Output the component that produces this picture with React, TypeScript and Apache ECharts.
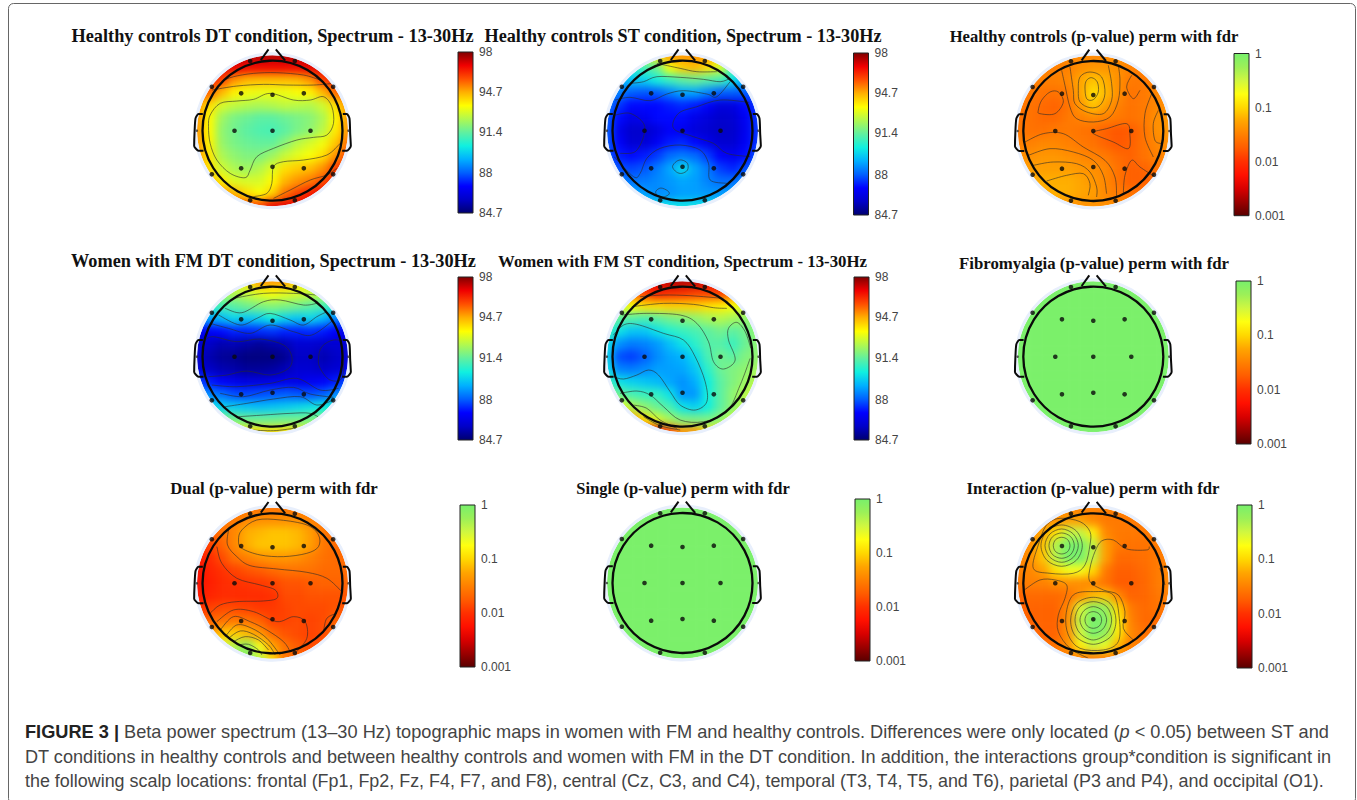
import React, { useEffect, useRef } from "react";
import * as echarts from "echarts";

// Field cell values, 13 rows from the front of the scalp to the back, 13 columns left to right.
const hcDtField = [
  [97.5,97.5,97.5,97.5,97.5,97.5,97.5,97.5,97.5,97.5,97.5,97.5,97.5],
  [97,97,97,97,96.8,96.8,96.8,96.8,96.8,97,97,97,97],
  [96.5,96.5,96,95,94.6,94.5,94.5,94.5,94.6,95,96,96.5,96.5],
  [96,95.5,94.5,93.7,93.4,93.3,93.3,93.3,93.5,93.7,94.5,95.5,96],
  [95,94,93,92.7,92.5,92.4,92.5,92.7,92.6,92.5,92.9,94,95],
  [95,93.6,92.2,91.7,91.5,91.3,91.3,91.5,91.7,91.9,92.4,93.6,95],
  [95,93.6,92,91.6,91.3,91.1,91,91.3,91.7,92,92.6,93.8,95],
  [95,93.7,92.1,91.7,91.5,91.4,91.4,91.9,92.6,93,93.4,94.3,95.5],
  [95,93.9,92.4,92,91.8,91.8,92.2,92.8,93.2,93.5,94,95,96],
  [95,94,92.9,92.4,92.2,92.5,93.1,94,94.3,94.5,95,96,96.5],
  [95,94.5,93.8,93.1,93,93,93.6,94.6,95,95.3,95.8,96.5,97],
  [96,96,95,94.6,94,93.6,94.2,95.4,96,96.5,97,97,97],
  [96,96,96,96,96,96,97,97,97,97,97,97,97],
];
const hcStField = [
  [92,92,92,93,94,95,95,95,95,94,92,90,90],
  [90.5,90.5,90.5,91,91.6,93.5,94.3,94.5,94,93,91,90,90],
  [89,89,89.5,89.7,90.3,90.8,91.3,91.5,91.2,91,90,89,88.5],
  [88.5,88.5,88,87.9,88,88.5,89,89,88.5,88,88,88,88],
  [88.5,87.5,87,87,87,87.2,87.4,87.2,86.8,86.2,86.3,87,87.5],
  [88,87,86.4,86.6,87,87,87,86.5,86.2,85.9,86,86.7,87.5],
  [88,86.5,85.9,85.9,86.3,86.8,86.6,86.2,86,85.8,85.9,86.6,87.5],
  [88,86.8,86,86.1,86.7,87.2,87.4,87,86.5,86,86,86.7,87.5],
  [88,87.2,87,87.2,87.6,88.2,88.4,88.2,87.6,86.8,86.6,87,88],
  [88.5,87.8,87.7,87.9,88.4,89,89.9,89,88.4,87.6,87.3,87.8,88.5],
  [89,88.5,88.3,88.4,88.6,88.8,89,88.9,88.5,88.2,88.2,88.7,89],
  [89.5,89.5,89,88.9,88.6,88.7,88.9,88.9,88.8,88.8,89,89.5,89.5],
  [90,90,90,90,90,90,90,90,90,90,90,90,90],
];
const fmDtField = [
  [93,93,93,93,94,95,95,95,94,93,93,93,93],
  [92.3,92.3,92.3,92.5,92.8,93.2,93.5,93.2,93,92.8,92.5,92.3,92.3],
  [90.5,90.5,91,91.3,91.6,91.8,91.9,91.8,91.6,91.3,91,90.5,90.5],
  [88.5,89,89.3,89.8,89.5,89.7,90.2,89.7,89.5,89.8,89.3,88.5,88],
  [86.5,86.8,87,87.3,87.3,87.4,87.5,87.3,87.3,87.4,87.2,86.8,86.5],
  [86,85.8,85.5,85.6,85.4,85.2,85.4,85.6,86,86,85.9,86,86],
  [86,85.5,85.2,85.1,84.9,84.9,84.9,85.1,85.8,85.8,85.5,85.8,86],
  [86.2,85.8,85.5,85.4,85.2,85.2,85.3,85.6,86,86,85.8,86,86.3],
  [87.8,87.2,86.8,86.5,86.3,86.3,86.4,86.5,86.4,86.6,86.8,87.2,87.8],
  [89,88.6,88.2,87.8,87.7,87.8,87.9,88,87.9,87.8,88,88.6,89],
  [90.3,90,89.7,89.6,89.5,89.4,89.5,89.6,89.8,90,90.2,90.3,90.3],
  [92,92,91.8,91.6,91.5,91.5,91.5,91.6,91.6,91.7,91.8,92,92],
  [93,93,93,93.5,94,94,94,94,94,93,93,93,93],
];
const fmStField = [
  [97,97,97,97,97,97.5,97.5,97.5,97,97,97,97,97],
  [95,95,95.5,96,96.5,96.3,96.2,96,96,96,95.5,95,95],
  [92.5,93,93.5,94,94,94.2,94.2,94.2,94,93.8,93.5,93,93],
  [91.5,91.3,91.2,91,91.3,91.6,91.8,92,92.3,92.5,92.3,92,92],
  [91,90,89.5,89.5,90,90.5,90.8,91,91.3,91.6,91.3,91.6,92],
  [90,88.7,88.4,88.5,88.8,89.4,90,90.6,91.2,91.2,90.8,91.5,92],
  [89.8,87.8,87.6,88,88.6,89,89.2,89.9,91,91.6,91.3,91.8,92],
  [90,88.5,88.4,88.6,88.9,88.9,89,89.5,90.6,91.5,91.8,92,92.3],
  [91,90,89.7,89.5,89.3,89,88.7,89.1,90.2,91.3,91.8,92.2,92.6],
  [92,91.4,91,90.8,90.7,90,88.8,88.8,90.3,91.3,92,92.5,93],
  [94.5,93.5,92.5,92,91.5,91,90,89.7,90.2,91.3,92,92.7,93],
  [96,95.5,95,94,93,92.3,91.8,91.7,91.7,92,92.8,93,93.5],
  [96,96,96.5,97,97,96,95,95,94,94,94,94,94],
];
// p-value maps hold log10(p)
const hcPField = [
  [-1.45,-1.45,-1.45,-1.45,-1.45,-1.45,-1.45,-1.45,-1.45,-1.45,-1.45,-1.45,-1.45],
  [-1.5,-1.5,-1.5,-1.5,-1.5,-1.4,-1.35,-1.35,-1.4,-1.5,-1.5,-1.5,-1.5],
  [-1.5,-1.5,-1.5,-1.5,-1.45,-1.25,-1.1,-1.2,-1.4,-1.55,-1.55,-1.5,-1.5],
  [-1.5,-1.55,-1.6,-1.6,-1.55,-1.25,-0.95,-1.15,-1.4,-1.6,-1.55,-1.45,-1.45],
  [-1.55,-1.6,-1.65,-1.7,-1.6,-1.35,-1.1,-1.3,-1.5,-1.6,-1.55,-1.45,-1.4],
  [-1.6,-1.6,-1.65,-1.65,-1.55,-1.5,-1.45,-1.5,-1.55,-1.6,-1.55,-1.4,-1.35],
  [-1.55,-1.6,-1.6,-1.55,-1.55,-1.58,-1.62,-1.72,-1.78,-1.75,-1.6,-1.4,-1.35],
  [-1.5,-1.5,-1.45,-1.45,-1.5,-1.55,-1.6,-1.7,-1.78,-1.72,-1.6,-1.45,-1.4],
  [-1.4,-1.4,-1.35,-1.35,-1.4,-1.45,-1.5,-1.55,-1.65,-1.7,-1.6,-1.5,-1.45],
  [-1.35,-1.3,-1.3,-1.3,-1.3,-1.35,-1.4,-1.45,-1.6,-1.72,-1.7,-1.6,-1.55],
  [-1.35,-1.25,-1.2,-1.2,-1.2,-1.25,-1.35,-1.45,-1.6,-1.72,-1.72,-1.65,-1.6],
  [-1.35,-1.3,-1.25,-1.2,-1.2,-1.25,-1.3,-1.45,-1.55,-1.6,-1.6,-1.6,-1.6],
  [-1.4,-1.4,-1.4,-1.4,-1.4,-1.4,-1.4,-1.4,-1.4,-1.4,-1.4,-1.4,-1.4],
];
const greenRow = [-0.02,-0.02,-0.02,-0.02,-0.02,-0.02,-0.02,-0.02,-0.02,-0.02,-0.02,-0.02,-0.02];
const fmPField = [greenRow,greenRow,greenRow,greenRow,greenRow,greenRow,greenRow,greenRow,greenRow,greenRow,greenRow,greenRow,greenRow];
const singlePField = fmPField;
const dualPField = [
  [-1.6,-1.6,-1.6,-1.6,-1.6,-1.6,-1.6,-1.6,-1.6,-1.6,-1.6,-1.6,-1.6],
  [-1.6,-1.6,-1.6,-1.55,-1.45,-1.4,-1.4,-1.4,-1.4,-1.5,-1.6,-1.6,-1.6],
  [-1.8,-1.75,-1.6,-1.45,-1.2,-1.15,-1.1,-1.1,-1.15,-1.3,-1.55,-1.65,-1.65],
  [-2,-1.9,-1.7,-1.45,-1.2,-1.1,-1.1,-1.1,-1.15,-1.3,-1.55,-1.65,-1.65],
  [-2.2,-2.05,-1.85,-1.6,-1.5,-1.4,-1.35,-1.35,-1.4,-1.5,-1.6,-1.65,-1.65],
  [-2.3,-2.1,-2,-1.9,-1.8,-1.75,-1.65,-1.6,-1.6,-1.6,-1.65,-1.65,-1.65],
  [-2.3,-2.15,-2.05,-2,-1.98,-1.95,-1.9,-1.8,-1.8,-1.75,-1.7,-1.7,-1.7],
  [-2.2,-2.1,-2.05,-2.05,-2.05,-2.05,-2,-1.85,-1.85,-1.8,-1.8,-1.8,-1.8],
  [-2,-1.9,-1.85,-1.85,-1.9,-1.95,-1.95,-1.9,-1.85,-1.85,-1.85,-1.8,-1.8],
  [-1.8,-1.65,-1.6,-1.55,-1.6,-1.7,-1.9,-1.9,-1.85,-1.9,-1.85,-1.7,-1.7],
  [-1.6,-1.4,-1.1,-1.05,-1.15,-1.35,-1.65,-1.8,-1.85,-1.9,-1.85,-1.65,-1.6],
  [-1.3,-0.9,-0.6,-0.35,-0.15,-0.7,-1.25,-1.6,-1.75,-1.85,-1.8,-1.7,-1.65],
  [-1,-0.8,-0.5,-0.15,-0.1,-0.4,-1,-1.6,-1.7,-1.7,-1.7,-1.7,-1.7],
];
const interactionPField = [
  [-1.5,-1.5,-1.5,-1.5,-1.5,-1.5,-1.5,-1.5,-1.5,-1.5,-1.5,-1.5,-1.5],
  [-1.5,-1.5,-1.5,-1.4,-1.3,-1.3,-1.45,-1.55,-1.55,-1.55,-1.55,-1.5,-1.5],
  [-1.5,-1.45,-1.25,-0.95,-0.45,-0.45,-0.85,-1.45,-1.55,-1.55,-1.55,-1.5,-1.5],
  [-1.5,-1.4,-1.1,-0.35,0,0,-0.4,-1.3,-1.55,-1.6,-1.6,-1.55,-1.5],
  [-1.5,-1.4,-1.1,-0.4,0,0,-0.45,-1.3,-1.65,-1.65,-1.62,-1.55,-1.5],
  [-1.5,-1.45,-1.3,-0.95,-0.7,-0.7,-1,-1.55,-1.72,-1.72,-1.65,-1.55,-1.45],
  [-1.55,-1.5,-1.5,-1.42,-1.4,-1.42,-1.45,-1.6,-1.75,-1.75,-1.68,-1.55,-1.45],
  [-1.7,-1.65,-1.65,-1.65,-1.6,-1.4,-1.15,-1.1,-1.45,-1.7,-1.68,-1.58,-1.5],
  [-1.7,-1.7,-1.7,-1.7,-1.45,-0.55,-0.1,-0.2,-1,-1.55,-1.65,-1.6,-1.55],
  [-1.7,-1.7,-1.7,-1.7,-1.4,-0.4,0,-0.05,-0.85,-1.5,-1.65,-1.65,-1.6],
  [-1.65,-1.65,-1.7,-1.7,-1.4,-0.5,0,-0.2,-0.9,-1.45,-1.6,-1.6,-1.6],
  [-1.6,-1.6,-1.6,-1.6,-1.4,-0.85,-0.5,-0.65,-1.2,-1.5,-1.55,-1.55,-1.55],
  [-1.55,-1.55,-1.55,-1.55,-1.55,-1.55,-1.55,-1.55,-1.55,-1.55,-1.55,-1.55,-1.55],
];

// Contour lines, scalp coordinates (head radius = 210 units)
const hcDtContours = [
  [[-152,149],[-117,162],[-57,172],[13,174],[93,167],[143,152]],
  [[-182,122],[-107,134],[-27,139],[43,137],[123,137],[183,142]],
  [[-192,12],[-187,47],[-157,82],[-107,89],[-57,94],[-7,112],[63,92],[113,92],[153,102],[178,72],[183,22],[163,-13],[123,-20],[73,-28],[3,-53],[-47,-78],[-67,-118],[-82,-141],[-127,-128],[-167,-88],[-187,-38],[-192,12]],
  [[-57,-198],[-17,-188],[-2,-158],[3,-108],[33,-93],[93,-88],[163,-73],[203,-38]],
  [[3,-203],[53,-178],[113,-148],[163,-133],[193,-113]],
];
const hcStContours = [
  [[-77,202],[-7,187],[43,177],[103,177]],
  [[-157,142],[-117,147],[-77,162],[-7,160],[63,154],[113,147],[143,157]],
  [[-202,92],[-157,100],[-97,90],[-47,110],[3,120],[73,110],[103,102],[143,147]],
  [[-202,47],[-157,52],[-117,22],[-117,-18],[-142,-63],[-187,-68]],
  [[200,85],[113,92],[43,72],[-12,52],[-27,7],[33,-18],[93,-38],[133,-68],[203,-78]],
  [[-205,-78],[-147,-138],[-127,-128],[-107,-83],[-67,-53],[-7,-43],[53,-58],[78,-98],[83,-148],[133,-158]],
  [[-30,-108],[-18,-92],[-2,-88],[15,-98],[15,-118],[-2,-128],[-18,-124],[-30,-108]],
  [[-80,-182],[-65,-172],[-45,-180],[-40,-190],[-55,-198],[-75,-195],[-80,-182]],
];
const hcPContours = [
  [[-25,132],[-20,152],[-5,160],[12,147],[15,117],[0,94],[-20,97],[-25,132]],
  [[-45,122],[-40,162],[-10,177],[25,162],[35,112],[20,77],[-10,70],[-40,87],[-45,122]],
  [[-70,192],[-60,122],[-55,82],[-20,57],[30,52],[55,92],[55,142],[45,197]],
  [[-95,182],[-85,137],[-70,72],[-50,37],[0,27],[50,42],[75,92],[80,152],[75,197]],
  [[-165,62],[-155,92],[-130,117],[-105,117],[-90,87],[-115,52],[-160,52],[-165,62]],
  [[115,167],[100,132],[120,97],[140,122]],
  [[175,112],[155,52],[155,-18],[180,-78]],
  [[195,62],[180,22],[185,-28],[205,-38]],
  [[0,-3],[40,7],[100,22],[110,-13],[105,-53],[60,-33],[10,-13],[0,-3]],
  [[-205,-33],[-150,-8],[-90,-8],[-30,-48],[35,-88],[65,-138],[70,-198]],
  [[-195,-73],[-130,-53],[-60,-63],[0,-88],[30,-133],[40,-188]],
  [[-180,-103],[-120,-93],[-50,-98],[-10,-123],[10,-168],[10,-198]],
  [[-140,-150],[-80,-133],[-30,-128],[-10,-158],[-15,-193]],
  [[90,-188],[95,-133],[115,-88],[140,-108],[185,-138]],
];
const fmDtContours = [
  [[-117,175],[-27,190],[63,190],[133,185]],
  [[-142,145],[-92,132],[-27,165],[23,170],[93,155],[133,160]],
  [[-162,125],[-97,95],[-47,115],[-7,130],[53,110],[93,95],[133,120],[163,135]],
  [[-187,100],[-132,85],[-67,70],[-7,95],[63,75],[118,65],[183,110]],
  [[-202,50],[-177,60],[-107,45],[-37,53],[33,35],[58,0],[48,-35],[-7,-55],[-77,-43],[-137,-55],[-192,-60]],
  [[138,-5],[148,30],[183,50],[208,35],[210,-60],[173,-70],[143,-35],[138,-5]],
  [[-182,-85],[-107,-90],[-7,-80],[73,-65],[143,-100],[198,-95]],
  [[-157,-110],[-87,-120],[-7,-100],[63,-92],[113,-112],[183,-122]],
  [[-142,-150],[-77,-140],[3,-127],[83,-120],[133,-145],[183,-130]],
  [[-102,-180],[-27,-175],[53,-170],[113,-170],[153,-190]],
  [[-67,-220],[3,-222],[63,-215]],
];
const fmStContours = [
  [[-127,180],[-57,185],[23,183],[123,175]],
  [[-152,150],[-57,160],[33,157],[93,147],[133,145]],
  [[-182,125],[-107,130],[-7,125],[43,100],[78,45],[93,-15],[123,-37],[158,-10],[138,50],[138,85],[163,103],[188,75],[205,25]],
  [[-207,65],[-177,95],[-137,97],[-57,70],[3,50],[38,0],[68,-75],[73,-135],[38,-160],[-7,-145],[-37,-105],[-72,-55],[-102,-40],[-137,-55],[-177,-67],[-207,-60]],
  [[-187,-110],[-137,-103],[-97,-115],[-57,-150],[-7,-190],[63,-195],[133,-165],[173,-85],[203,-5]],
  [[-147,-145],[-107,-155],[-67,-190],[-17,-215]],
  [[-117,-180],[-67,-207],[-7,-220]],
];
const dualPContours = [
  [[-102,130],[-92,160],[-47,190],[23,190],[103,175],[138,145],[138,110],[103,90],[33,80],[-37,85],[-92,105],[-102,130]],
  [[-132,160],[-135,115],[-107,80],[-67,53],[13,43],[103,33],[163,15],[208,-25]],
  [[-167,110],[-152,60],[-107,15],[-37,-5],[8,-20],[13,-45],[-27,-53],[-107,-55],[-157,-65],[-187,-90]],
  [[-167,-115],[-117,-80],[-57,-85],[13,-115],[63,-100],[98,-115],[103,-165],[68,-210]],
  [[-157,-140],[-117,-100],[-67,-115],[-17,-140],[33,-175],[53,-205]],
  [[-142,-160],[-107,-125],[-62,-135],[-17,-165],[23,-215]],
  [[-132,-165],[-97,-143],[-57,-153],[-12,-185],[8,-215]],
  [[-117,-175],[-82,-160],[-42,-170],[-12,-200]],
  [[-102,-185],[-72,-183],[-42,-200],[-32,-215]],
  [[153,-145],[163,-105],[193,-90]],
];
const interactionPContours = [
  [[-70,113],[-77,131],[-95,138],[-113,131],[-120,113],[-113,95],[-95,88],[-77,95],[-70,113]],
  [[-57,113],[-68,140],[-95,151],[-122,140],[-133,113],[-122,86],[-95,75],[-68,86],[-57,113]],
  [[-45,113],[-60,148],[-95,163],[-130,148],[-145,113],[-130,78],[-95,63],[-60,78],[-45,113]],
  [[-33,113],[-51,157],[-95,175],[-139,157],[-157,113],[-139,69],[-95,51],[-51,69],[-33,113]],
  [[-10,155],[-40,185],[-100,195],[-140,175],[-165,115],[-180,45],[-130,30],[-60,30],[-25,55],[-10,115],[-10,155]],
  [[25,-110],[18,-92],[0,-85],[-18,-92],[-25,-110],[-18,-128],[0,-135],[18,-128],[25,-110]],
  [[40,-110],[28,-82],[0,-70],[-28,-82],[-40,-110],[-28,-138],[0,-150],[28,-138],[40,-110]],
  [[55,-110],[40,-70],[0,-55],[-40,-70],[-55,-110],[-40,-150],[0,-170],[40,-150],[55,-110]],
  [[68,-110],[50,-60],[0,-42],[-50,-60],[-68,-110],[-52,-160],[0,-183],[52,-160],[68,-110]],
  [[-82,-95],[-60,-35],[0,-25],[60,-35],[78,-105],[75,-175],[30,-200],[-40,-195],[-75,-155],[-82,-95]],
  [[-207,-20],[-160,10],[-115,10],[-80,-5],[-85,-45],[-105,-95],[-105,-145],[-70,-195],[-15,-225]],
  [[168,110],[160,100],[100,103],[60,130],[25,127],[5,95],[-10,45],[-10,5],[30,-20],[75,-35],[95,-85],[90,-135],[120,-170]],
  [[200,45],[215,-5]],
];

const electrodes = [
  [-94,112],[0,108],[94,112],[-114,0],[0,0],[114,0],[-94,-113],[0,-108],[94,-113],
  [-182,132],[182,132],[-182,-131],[182,-131],[-67,209],[67,209],[-67,-209],[67,-209],
];
const earSpots = [[-227,0],[228,0]];
const headLines = [
  [[-209,50],[-222,50],[-231,37],[-234,-8],[-235,-46],[-222,-60],[-207,-60]],
  [[211,50],[223,50],[231,37],[233,-8],[235,-46],[223,-60],[209,-60]],
  [[-35,212],[-12,244]],
  [[10,244],[38,210]],
];

const cellCategories = ["0","1","2","3","4","5","6","7","8","9","10","11","12"];
const spectrumTicks = [84.7, 88, 91.4, 94.7, 98];
const pTickValues = [-3, -2, -1, 0];
const pTickLabels = ["0.001", "0.01", "0.1", "1"];

const jetColors = ['#000070','#0000c8','#0000ff','#0060ff','#00b0ff','#10f0e0','#60f0a0','#b0f850','#ffff00','#ffb000','#ff5000','#f00000','#800000'];
const pColors = ['#5a0000','#9a0000','#d80000','#ff1000','#ff3000','#ff5c00','#ff8000','#ffa500','#ffd800','#ffff10','#d0f740','#9cf058','#78f06c'];

const MAPS: any[] = [
  { title: "Healthy controls DT condition, Spectrum - 13-30Hz", size: 18.3, tx: 272.5, ty: 36, field: hcDtField, contours: hcDtContours, kind: "s", cx: 272.5, cy: 130.7, bx: 458, bt: 52, bb: 213 },
  { title: "Healthy controls ST condition, Spectrum - 13-30Hz", size: 18.2, tx: 683, ty: 36, field: hcStField, contours: hcStContours, kind: "s", cx: 682.5, cy: 130.7, bx: 853.5, bt: 53, bb: 215 },
  { title: "Healthy controls (p-value) perm with fdr", size: 16.6, tx: 1094, ty: 36, field: hcPField, contours: hcPContours, kind: "p", cx: 1093.3, cy: 131, bx: 1234, bt: 53.5, bb: 215.7 },
  { title: "Women with FM DT condition, Spectrum - 13-30Hz", size: 18.3, tx: 273.5, ty: 261, field: fmDtField, contours: fmDtContours, kind: "s", cx: 272.5, cy: 356.7, bx: 458, bt: 277, bb: 440 },
  { title: "Women with FM ST condition, Spectrum - 13-30Hz", size: 16.8, tx: 682.5, ty: 261, field: fmStField, contours: fmStContours, kind: "s", cx: 682.5, cy: 356.7, bx: 854, bt: 277, bb: 440 },
  { title: "Fibromyalgia (p-value) perm with fdr", size: 16.8, tx: 1094, ty: 263, field: fmPField, contours: [], kind: "p", cx: 1093.3, cy: 356.7, bx: 1236, bt: 281, bb: 444 },
  { title: "Dual (p-value) perm with fdr", size: 16.75, tx: 274, ty: 488, field: dualPField, contours: dualPContours, kind: "p", cx: 272.5, cy: 583.3, bx: 460, bt: 505, bb: 667 },
  { title: "Single (p-value) perm with fdr", size: 16.5, tx: 683, ty: 488, field: singlePField, contours: [], kind: "p", cx: 682.5, cy: 583, bx: 855, bt: 499, bb: 661 },
  { title: "Interaction (p-value) perm with fdr", size: 16.76, tx: 1093, ty: 488, field: interactionPField, contours: interactionPContours, kind: "p", cx: 1093.3, cy: 583.3, bx: 1237, bt: 505, bb: 668 },
];

const captionLines = [
  "{b|FIGURE 3 | }Beta power spectrum (13–30 Hz) topographic maps in women with FM and healthy controls. Differences were only located ({i|p} < 0.05) between ST and",
  "DT conditions in healthy controls and between healthy controls and women with FM in the DT condition. In addition, the interactions group*condition is significant in",
  "the following scalp locations: frontal (Fp1, Fp2, Fz, F4, F7, and F8), central (Cz, C3, and C4), temporal (T3, T4, T5, and T6), parietal (P3 and P4), and occipital (O1).",
];
const captionFonts = [18.2, 18.14, 17.92];

function heatOption() {
  const grid: any[] = [], xAxis: any[] = [], yAxis: any[] = [], series: any[] = [];
  MAPS.forEach((m, i) => {
    grid.push({ left: m.cx - 81.9, top: m.cy - 81.9, width: 163.8, height: 163.8 });
    xAxis.push({ type: "category", gridIndex: i, data: cellCategories, show: false });
    yAxis.push({ type: "category", gridIndex: i, data: cellCategories, show: false });
    series.push({
      type: "heatmap", xAxisIndex: i, yAxisIndex: i,
      data: m.field.flatMap((row: number[], r: number) => row.map((v, c) => [c, 12 - r, v])),
      itemStyle: { borderWidth: 0 },
    });
  });
  const idx = (k: string) => MAPS.map((m, i) => (m.kind === k ? i : -1)).filter((i) => i >= 0);
  return {
    animation: false, grid, xAxis, yAxis, series,
    visualMap: [
      { show: false, type: "continuous", min: 84.7, max: 98, dimension: 2, seriesIndex: idx("s"), inRange: { color: jetColors } },
      { show: false, type: "continuous", min: -3, max: 0, dimension: 2, seriesIndex: idx("p"), inRange: { color: pColors } },
    ],
  };
}

// One smooth segment of a contour: from point i to point i+1, with tangents from the neighbouring points.
function contourSegment(contour: number[][]) {
  const n = contour.length;
  const closed = contour[0][0] === contour[n - 1][0] && contour[0][1] === contour[n - 1][1];
  return (params: any, api: any) => {
    const i = params.dataIndex;
    if (i >= n - 1) return null;
    const at = (k: number) => {
      let j = k;
      if (closed) j = (k + (n - 1)) % (n - 1);
      else j = Math.max(0, Math.min(n - 1, k));
      return api.coord(contour[j]);
    };
    const p0 = at(i - 1), p1 = at(i), p2 = at(i + 1), p3 = at(i + 2);
    return {
      type: "bezierCurve",
      shape: {
        x1: p1[0], y1: p1[1], x2: p2[0], y2: p2[1],
        cpx1: p1[0] + (p2[0] - p0[0]) / 6, cpy1: p1[1] + (p2[1] - p0[1]) / 6,
        cpx2: p2[0] - (p3[0] - p1[0]) / 6, cpy2: p2[1] - (p3[1] - p1[1]) / 6,
      },
      style: { fill: "none", stroke: "#2b2b2b", lineWidth: 0.85, opacity: 0.7 },
    };
  };
}

function overlayOption() {
  const grid: any[] = [], xAxis: any[] = [], yAxis: any[] = [], series: any[] = [], graphic: any[] = [];
  MAPS.forEach((m, i) => {
    const g = i * 2, b = i * 2 + 1;
    grid.push({ left: m.cx - 84, top: m.cy - 84, width: 168, height: 168 });
    xAxis.push({ type: "value", gridIndex: g, min: -252, max: 252, show: false });
    yAxis.push({ type: "value", gridIndex: g, min: -252, max: 252, show: false });
    m.contours.forEach((c: number[][]) => series.push({
      type: "custom", xAxisIndex: g, yAxisIndex: g, data: c, encode: { x: 0, y: 1 },
      renderItem: contourSegment(c), z: 2, silent: true, clip: false,
    }));
    headLines.forEach((c) => series.push({
      type: "line", xAxisIndex: g, yAxisIndex: g, data: c, smooth: 0.2, symbol: "none", showSymbol: false,
      lineStyle: { color: "#0a0a0a", width: 2 }, z: 6, silent: true, clip: false,
    }));
    series.push({
      type: "scatter", xAxisIndex: g, yAxisIndex: g, data: electrodes, symbolSize: 4.6,
      itemStyle: { color: "#0a0a0a" }, z: 7, silent: true, clip: false,
    });
    series.push({
      type: "scatter", xAxisIndex: g, yAxisIndex: g, data: earSpots, symbolSize: 2.5,
      itemStyle: { color: "#333" }, z: 7, silent: true, clip: false,
    });
    // colour bar
    const isS = m.kind === "s";
    grid.push({ left: m.bx, top: m.bt, width: 15, height: m.bb - m.bt });
    xAxis.push({ type: "category", gridIndex: b, data: ["bar"], show: false });
    yAxis.push({
      type: "value", gridIndex: b, position: "right",
      min: isS ? spectrumTicks[0] : pTickValues[0],
      max: isS ? spectrumTicks[4] : pTickValues[3],
      axisLine: { show: false }, axisTick: { show: false }, splitLine: { show: false },
      axisLabel: {
        show: true, margin: 6, color: "#444", fontSize: 12, fontFamily: "Liberation Sans",
        customValues: isS ? spectrumTicks : pTickValues,
        formatter: (v: number) => (isS ? String(v) : pTickLabels[pTickValues.indexOf(v)]),
      },
    });
    const colors = isS ? jetColors : pColors;
    series.push({
      type: "custom", xAxisIndex: b, yAxisIndex: b, silent: true, z: 5, clip: false,
      data: [[0, yAxis[b].min, yAxis[b].max]],
      encode: { x: 0, y: [1, 2] },
      renderItem: (params: any, api: any) => {
        const top = api.coord([0, api.value(2)]);
        const bot = api.coord([0, api.value(1)]);
        const cs = params.coordSys;
        return {
          type: "rect",
          shape: { x: cs.x, y: top[1], width: cs.width, height: bot[1] - top[1] },
          style: {
            fill: new echarts.graphic.LinearGradient(0, 1, 0, 0,
              colors.map((c, k) => ({ offset: k / (colors.length - 1), color: c }))),
            stroke: "#222", lineWidth: 1,
          },
        };
      },
    });
    // masks & head
    graphic.push({ type: "ring", shape: { cx: m.cx, cy: m.cy, r: 132, r0: 75.5 }, style: { fill: "#fff" }, z: 3, silent: true });
    graphic.push({ type: "circle", shape: { cx: m.cx, cy: m.cy, r: 77 }, style: { fill: "none", stroke: "#e8effc", lineWidth: 3 }, z: 3, silent: true });
    graphic.push({ type: "circle", shape: { cx: m.cx, cy: m.cy, r: 70 }, style: { fill: "none", stroke: "#0a0a0a", lineWidth: 2.3 }, z: 6, silent: true });
    graphic.push({
      type: "text", x: m.tx, y: m.ty, z: 8, silent: true,
      style: { text: m.title, font: `bold ${m.size}px "Liberation Serif"`, fill: "#111", textAlign: "center", textVerticalAlign: "middle" },
    });
  });
  graphic.push({ type: "rect", shape: { x: 8.5, y: 3.5, width: 1347, height: 800, r: 5 }, style: { fill: "none", stroke: "#666", lineWidth: 1 }, z: 8, silent: true });
  captionLines.forEach((t, i) => graphic.push({
    type: "text", x: 25, y: 732 + i * 24.5, z: 8, silent: true,
    style: {
      text: t, fill: "#444", font: `${captionFonts[i]}px "Liberation Sans"`, textAlign: "left", textVerticalAlign: "middle",
      rich: {
        b: { font: `bold ${captionFonts[i]}px "Liberation Sans"`, fill: "#222" },
        i: { font: `italic ${captionFonts[i]}px "Liberation Sans"`, fill: "#444" },
      },
    },
  }));
  return { animation: false, backgroundColor: "transparent", grid, xAxis, yAxis, series, graphic };
}

export default function App() {
  const heatRef = useRef<HTMLDivElement>(null);
  const overlayRef = useRef<HTMLDivElement>(null);
  useEffect(() => {
    const a = echarts.init(heatRef.current!, null, { renderer: "svg" });
    const b = echarts.init(overlayRef.current!, null, { renderer: "svg" });
    a.setOption(heatOption() as any);
    b.setOption(overlayOption() as any);
    return () => { a.dispose(); b.dispose(); };
  }, []);
  const box: React.CSSProperties = { position: "absolute", left: 0, top: 0, width: 1357, height: 800 };
  return (
    <div style={{ ...box, background: "#fff", overflow: "hidden" }}>
      <div ref={heatRef} style={{ ...box, filter: "blur(4px)" }} />
      <div ref={overlayRef} style={box} />
    </div>
  );
}
